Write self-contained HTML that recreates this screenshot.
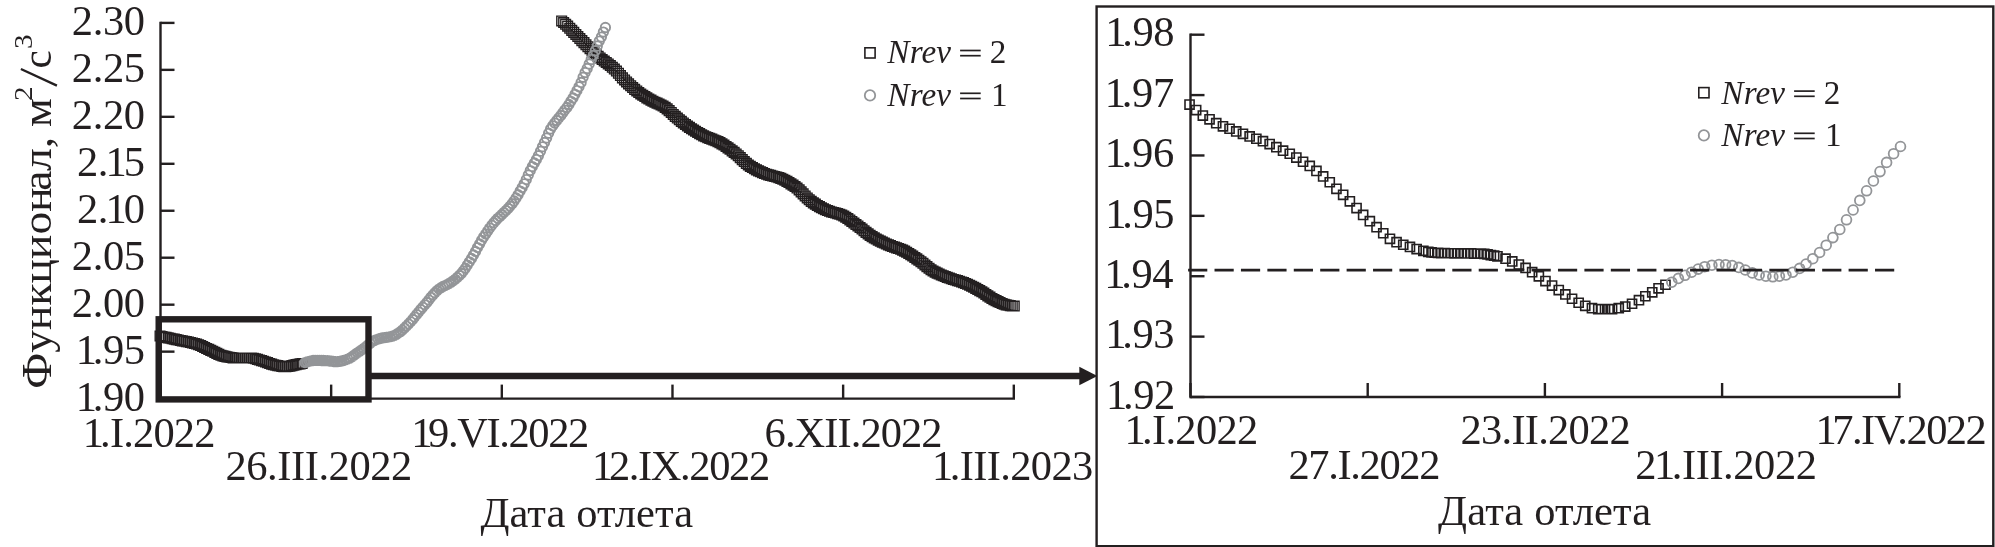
<!DOCTYPE html>
<html lang="ru"><head><meta charset="utf-8"><title>Figure</title>
<style>
html,body{margin:0;padding:0;background:#fff;}
body{width:1995px;height:547px;overflow:hidden;font-family:"Liberation Serif",serif;}
svg{display:block;will-change:transform;opacity:0.999}
text{font-family:"Liberation Serif",serif;}
</style></head><body>
<svg width="1995" height="547" viewBox="0 0 1995 547">
<rect width="1995" height="547" fill="#fff"/>
<line x1="160.50" y1="21.70" x2="160.50" y2="399.80" stroke="#231f20" stroke-width="2.4" />
<line x1="160.50" y1="398.60" x2="1015.00" y2="398.60" stroke="#231f20" stroke-width="2.4" />
<line x1="160.50" y1="22.90" x2="174.50" y2="22.90" stroke="#231f20" stroke-width="2.4" />
<line x1="160.50" y1="69.86" x2="174.50" y2="69.86" stroke="#231f20" stroke-width="2.4" />
<line x1="160.50" y1="116.83" x2="174.50" y2="116.83" stroke="#231f20" stroke-width="2.4" />
<line x1="160.50" y1="163.79" x2="174.50" y2="163.79" stroke="#231f20" stroke-width="2.4" />
<line x1="160.50" y1="210.75" x2="174.50" y2="210.75" stroke="#231f20" stroke-width="2.4" />
<line x1="160.50" y1="257.71" x2="174.50" y2="257.71" stroke="#231f20" stroke-width="2.4" />
<line x1="160.50" y1="304.68" x2="174.50" y2="304.68" stroke="#231f20" stroke-width="2.4" />
<line x1="160.50" y1="351.64" x2="174.50" y2="351.64" stroke="#231f20" stroke-width="2.4" />
<line x1="160.50" y1="398.60" x2="174.50" y2="398.60" stroke="#231f20" stroke-width="2.4" />
<line x1="160.50" y1="384.60" x2="160.50" y2="398.60" stroke="#231f20" stroke-width="2.4" />
<line x1="331.16" y1="384.60" x2="331.16" y2="398.60" stroke="#231f20" stroke-width="2.4" />
<line x1="501.82" y1="384.60" x2="501.82" y2="398.60" stroke="#231f20" stroke-width="2.4" />
<line x1="672.48" y1="384.60" x2="672.48" y2="398.60" stroke="#231f20" stroke-width="2.4" />
<line x1="843.14" y1="384.60" x2="843.14" y2="398.60" stroke="#231f20" stroke-width="2.4" />
<line x1="1013.80" y1="384.60" x2="1013.80" y2="398.60" stroke="#231f20" stroke-width="2.4" />
<path d="M556.8 16.1h9.7v9.7h-9.7zM558.8 17.7h9.7v9.7h-9.7zM560.8 19.4h9.7v9.7h-9.7zM562.8 21.3h9.7v9.7h-9.7zM564.9 23.4h9.7v9.7h-9.7zM566.9 25.5h9.7v9.7h-9.7zM568.9 27.5h9.7v9.7h-9.7zM571.0 29.6h9.7v9.7h-9.7zM573.0 31.7h9.7v9.7h-9.7zM575.0 33.7h9.7v9.7h-9.7zM577.0 35.8h9.7v9.7h-9.7zM579.1 37.8h9.7v9.7h-9.7zM581.1 39.9h9.7v9.7h-9.7zM583.1 41.9h9.7v9.7h-9.7zM585.2 43.8h9.7v9.7h-9.7zM587.2 45.8h9.7v9.7h-9.7zM589.2 47.7h9.7v9.7h-9.7zM591.3 49.6h9.7v9.7h-9.7zM593.3 51.4h9.7v9.7h-9.7zM595.3 53.1h9.7v9.7h-9.7zM597.3 54.7h9.7v9.7h-9.7zM599.4 56.2h9.7v9.7h-9.7zM601.4 57.6h9.7v9.7h-9.7zM603.4 59.1h9.7v9.7h-9.7zM605.5 60.7h9.7v9.7h-9.7zM607.5 62.4h9.7v9.7h-9.7zM609.5 64.2h9.7v9.7h-9.7zM611.6 66.2h9.7v9.7h-9.7zM613.6 68.4h9.7v9.7h-9.7zM615.6 70.7h9.7v9.7h-9.7zM617.6 73.0h9.7v9.7h-9.7zM619.7 75.1h9.7v9.7h-9.7zM621.7 77.1h9.7v9.7h-9.7zM623.7 79.0h9.7v9.7h-9.7zM625.8 80.9h9.7v9.7h-9.7zM627.8 82.7h9.7v9.7h-9.7zM629.8 84.5h9.7v9.7h-9.7zM631.9 86.1h9.7v9.7h-9.7zM633.9 87.7h9.7v9.7h-9.7zM635.9 89.1h9.7v9.7h-9.7zM637.9 90.4h9.7v9.7h-9.7zM640.0 91.7h9.7v9.7h-9.7zM642.0 93.0h9.7v9.7h-9.7zM644.0 94.1h9.7v9.7h-9.7zM646.1 95.3h9.7v9.7h-9.7zM648.1 96.4h9.7v9.7h-9.7zM650.1 97.4h9.7v9.7h-9.7zM652.2 98.3h9.7v9.7h-9.7zM654.2 99.2h9.7v9.7h-9.7zM656.2 100.2h9.7v9.7h-9.7zM658.2 101.2h9.7v9.7h-9.7zM660.3 102.5h9.7v9.7h-9.7zM662.3 104.0h9.7v9.7h-9.7zM664.3 105.8h9.7v9.7h-9.7zM666.4 107.6h9.7v9.7h-9.7zM668.4 109.6h9.7v9.7h-9.7zM670.4 111.5h9.7v9.7h-9.7zM672.5 113.2h9.7v9.7h-9.7zM674.5 114.9h9.7v9.7h-9.7zM676.5 116.5h9.7v9.7h-9.7zM678.5 118.1h9.7v9.7h-9.7zM680.6 119.6h9.7v9.7h-9.7zM682.6 121.1h9.7v9.7h-9.7zM684.6 122.5h9.7v9.7h-9.7zM686.7 123.9h9.7v9.7h-9.7zM688.7 125.2h9.7v9.7h-9.7zM690.7 126.4h9.7v9.7h-9.7zM692.8 127.7h9.7v9.7h-9.7zM694.8 128.8h9.7v9.7h-9.7zM696.8 129.9h9.7v9.7h-9.7zM698.8 131.0h9.7v9.7h-9.7zM700.9 131.9h9.7v9.7h-9.7zM702.9 132.8h9.7v9.7h-9.7zM704.9 133.5h9.7v9.7h-9.7zM707.0 134.3h9.7v9.7h-9.7zM709.0 135.1h9.7v9.7h-9.7zM711.0 135.9h9.7v9.7h-9.7zM713.1 136.8h9.7v9.7h-9.7zM715.1 137.8h9.7v9.7h-9.7zM717.1 139.0h9.7v9.7h-9.7zM719.1 140.2h9.7v9.7h-9.7zM721.2 141.6h9.7v9.7h-9.7zM723.2 143.0h9.7v9.7h-9.7zM725.2 144.4h9.7v9.7h-9.7zM727.3 146.0h9.7v9.7h-9.7zM729.3 147.5h9.7v9.7h-9.7zM731.3 149.1h9.7v9.7h-9.7zM733.4 150.9h9.7v9.7h-9.7zM735.4 152.8h9.7v9.7h-9.7zM737.4 154.8h9.7v9.7h-9.7zM739.4 156.7h9.7v9.7h-9.7zM741.5 158.5h9.7v9.7h-9.7zM743.5 160.1h9.7v9.7h-9.7zM745.5 161.5h9.7v9.7h-9.7zM747.6 162.7h9.7v9.7h-9.7zM749.6 163.9h9.7v9.7h-9.7zM751.6 165.0h9.7v9.7h-9.7zM753.7 166.0h9.7v9.7h-9.7zM755.7 166.9h9.7v9.7h-9.7zM757.7 167.8h9.7v9.7h-9.7zM759.7 168.6h9.7v9.7h-9.7zM761.8 169.4h9.7v9.7h-9.7zM763.8 170.0h9.7v9.7h-9.7zM765.8 170.5h9.7v9.7h-9.7zM767.9 171.1h9.7v9.7h-9.7zM769.9 171.6h9.7v9.7h-9.7zM771.9 172.2h9.7v9.7h-9.7zM774.0 172.8h9.7v9.7h-9.7zM776.0 173.5h9.7v9.7h-9.7zM778.0 174.4h9.7v9.7h-9.7zM780.0 175.4h9.7v9.7h-9.7zM782.1 176.5h9.7v9.7h-9.7zM784.1 177.7h9.7v9.7h-9.7zM786.1 179.0h9.7v9.7h-9.7zM788.2 180.3h9.7v9.7h-9.7zM790.2 181.7h9.7v9.7h-9.7zM792.2 183.2h9.7v9.7h-9.7zM794.3 185.0h9.7v9.7h-9.7zM796.3 187.0h9.7v9.7h-9.7zM798.3 189.0h9.7v9.7h-9.7zM800.3 191.1h9.7v9.7h-9.7zM802.4 193.1h9.7v9.7h-9.7zM804.4 194.9h9.7v9.7h-9.7zM806.4 196.5h9.7v9.7h-9.7zM808.5 198.0h9.7v9.7h-9.7zM810.5 199.3h9.7v9.7h-9.7zM812.5 200.6h9.7v9.7h-9.7zM814.6 201.8h9.7v9.7h-9.7zM816.6 202.9h9.7v9.7h-9.7zM818.6 203.9h9.7v9.7h-9.7zM820.6 204.9h9.7v9.7h-9.7zM822.7 205.7h9.7v9.7h-9.7zM824.7 206.4h9.7v9.7h-9.7zM826.7 207.1h9.7v9.7h-9.7zM828.8 207.6h9.7v9.7h-9.7zM830.8 208.2h9.7v9.7h-9.7zM832.8 208.8h9.7v9.7h-9.7zM834.9 209.4h9.7v9.7h-9.7zM836.9 210.2h9.7v9.7h-9.7zM838.9 211.2h9.7v9.7h-9.7zM840.9 212.4h9.7v9.7h-9.7zM843.0 213.7h9.7v9.7h-9.7zM845.0 215.1h9.7v9.7h-9.7zM847.0 216.6h9.7v9.7h-9.7zM849.1 218.2h9.7v9.7h-9.7zM851.1 219.7h9.7v9.7h-9.7zM853.1 221.1h9.7v9.7h-9.7zM855.2 222.7h9.7v9.7h-9.7zM857.2 224.2h9.7v9.7h-9.7zM859.2 225.9h9.7v9.7h-9.7zM861.2 227.5h9.7v9.7h-9.7zM863.3 229.0h9.7v9.7h-9.7zM865.3 230.5h9.7v9.7h-9.7zM867.3 231.8h9.7v9.7h-9.7zM869.4 233.0h9.7v9.7h-9.7zM871.4 234.2h9.7v9.7h-9.7zM873.4 235.3h9.7v9.7h-9.7zM875.5 236.3h9.7v9.7h-9.7zM877.5 237.3h9.7v9.7h-9.7zM879.5 238.2h9.7v9.7h-9.7zM881.5 239.2h9.7v9.7h-9.7zM883.6 240.0h9.7v9.7h-9.7zM885.6 240.8h9.7v9.7h-9.7zM887.6 241.6h9.7v9.7h-9.7zM889.7 242.3h9.7v9.7h-9.7zM891.7 243.0h9.7v9.7h-9.7zM893.7 243.7h9.7v9.7h-9.7zM895.8 244.4h9.7v9.7h-9.7zM897.8 245.3h9.7v9.7h-9.7zM899.8 246.3h9.7v9.7h-9.7zM901.8 247.4h9.7v9.7h-9.7zM903.9 248.6h9.7v9.7h-9.7zM905.9 249.9h9.7v9.7h-9.7zM907.9 251.2h9.7v9.7h-9.7zM910.0 252.6h9.7v9.7h-9.7zM912.0 254.0h9.7v9.7h-9.7zM914.0 255.4h9.7v9.7h-9.7zM916.1 256.9h9.7v9.7h-9.7zM918.1 258.4h9.7v9.7h-9.7zM920.1 260.1h9.7v9.7h-9.7zM922.1 261.8h9.7v9.7h-9.7zM924.2 263.4h9.7v9.7h-9.7zM926.2 264.9h9.7v9.7h-9.7zM928.2 266.2h9.7v9.7h-9.7zM930.3 267.3h9.7v9.7h-9.7zM932.3 268.3h9.7v9.7h-9.7zM934.3 269.2h9.7v9.7h-9.7zM936.4 270.1h9.7v9.7h-9.7zM938.4 270.9h9.7v9.7h-9.7zM940.4 271.7h9.7v9.7h-9.7zM942.4 272.5h9.7v9.7h-9.7zM944.5 273.2h9.7v9.7h-9.7zM946.5 273.9h9.7v9.7h-9.7zM948.5 274.6h9.7v9.7h-9.7zM950.6 275.2h9.7v9.7h-9.7zM952.6 275.8h9.7v9.7h-9.7zM954.6 276.4h9.7v9.7h-9.7zM956.7 277.1h9.7v9.7h-9.7zM958.7 277.8h9.7v9.7h-9.7zM960.7 278.6h9.7v9.7h-9.7zM962.7 279.4h9.7v9.7h-9.7zM964.8 280.4h9.7v9.7h-9.7zM966.8 281.4h9.7v9.7h-9.7zM968.8 282.4h9.7v9.7h-9.7zM970.9 283.5h9.7v9.7h-9.7zM972.9 284.6h9.7v9.7h-9.7zM974.9 285.8h9.7v9.7h-9.7zM977.0 286.9h9.7v9.7h-9.7zM979.0 288.2h9.7v9.7h-9.7zM981.0 289.6h9.7v9.7h-9.7zM983.0 291.0h9.7v9.7h-9.7zM985.1 292.3h9.7v9.7h-9.7zM987.1 293.6h9.7v9.7h-9.7zM989.1 294.8h9.7v9.7h-9.7zM991.2 295.8h9.7v9.7h-9.7zM993.2 296.8h9.7v9.7h-9.7zM995.2 297.7h9.7v9.7h-9.7zM997.3 298.6h9.7v9.7h-9.7zM999.3 299.4h9.7v9.7h-9.7zM1001.3 300.0h9.7v9.7h-9.7zM1003.3 300.4h9.7v9.7h-9.7zM1005.4 300.8h9.7v9.7h-9.7zM1007.4 301.1h9.7v9.7h-9.7zM1009.4 301.2h9.7v9.7h-9.7z" fill="none" stroke="#231f20" stroke-width="1.4"/>
<path d="M155.2 331.1h9.7v9.7h-9.7zM157.2 331.6h9.7v9.7h-9.7zM159.2 332.1h9.7v9.7h-9.7zM161.2 332.5h9.7v9.7h-9.7zM163.3 333.0h9.7v9.7h-9.7zM165.3 333.4h9.7v9.7h-9.7zM167.3 333.9h9.7v9.7h-9.7zM169.4 334.3h9.7v9.7h-9.7zM171.4 334.8h9.7v9.7h-9.7zM173.4 335.2h9.7v9.7h-9.7zM175.5 335.6h9.7v9.7h-9.7zM177.5 336.0h9.7v9.7h-9.7zM179.5 336.4h9.7v9.7h-9.7zM181.5 336.8h9.7v9.7h-9.7zM183.6 337.2h9.7v9.7h-9.7zM185.6 337.6h9.7v9.7h-9.7zM187.6 338.1h9.7v9.7h-9.7zM189.7 338.6h9.7v9.7h-9.7zM191.7 339.2h9.7v9.7h-9.7zM193.7 339.9h9.7v9.7h-9.7zM195.8 340.7h9.7v9.7h-9.7zM197.8 341.6h9.7v9.7h-9.7zM199.8 342.6h9.7v9.7h-9.7zM201.8 343.6h9.7v9.7h-9.7zM203.9 344.5h9.7v9.7h-9.7zM205.9 345.5h9.7v9.7h-9.7zM207.9 346.4h9.7v9.7h-9.7zM210.0 347.5h9.7v9.7h-9.7zM212.0 348.5h9.7v9.7h-9.7zM214.0 349.5h9.7v9.7h-9.7zM216.1 350.4h9.7v9.7h-9.7zM218.1 351.0h9.7v9.7h-9.7zM220.1 351.5h9.7v9.7h-9.7zM222.1 352.0h9.7v9.7h-9.7zM224.2 352.4h9.7v9.7h-9.7zM226.2 352.7h9.7v9.7h-9.7zM228.2 353.0h9.7v9.7h-9.7zM230.3 353.1h9.7v9.7h-9.7zM232.3 353.1h9.7v9.7h-9.7zM234.3 353.1h9.7v9.7h-9.7zM236.4 353.1h9.7v9.7h-9.7zM238.4 353.1h9.7v9.7h-9.7zM240.4 353.1h9.7v9.7h-9.7zM242.4 353.1h9.7v9.7h-9.7zM244.5 353.1h9.7v9.7h-9.7zM246.5 353.2h9.7v9.7h-9.7zM248.5 353.4h9.7v9.7h-9.7zM250.6 353.9h9.7v9.7h-9.7zM252.6 354.5h9.7v9.7h-9.7zM254.6 355.1h9.7v9.7h-9.7zM256.7 355.8h9.7v9.7h-9.7zM258.7 356.4h9.7v9.7h-9.7zM260.7 357.1h9.7v9.7h-9.7zM262.7 357.8h9.7v9.7h-9.7zM264.8 358.6h9.7v9.7h-9.7zM266.8 359.3h9.7v9.7h-9.7zM268.8 359.9h9.7v9.7h-9.7zM270.9 360.4h9.7v9.7h-9.7zM272.9 360.8h9.7v9.7h-9.7zM274.9 361.2h9.7v9.7h-9.7zM277.0 361.6h9.7v9.7h-9.7zM279.0 361.8h9.7v9.7h-9.7zM281.0 361.8h9.7v9.7h-9.7zM283.0 361.6h9.7v9.7h-9.7zM285.1 361.3h9.7v9.7h-9.7zM287.1 360.8h9.7v9.7h-9.7zM289.1 360.3h9.7v9.7h-9.7zM291.2 359.8h9.7v9.7h-9.7zM293.2 359.4h9.7v9.7h-9.7zM295.2 359.0h9.7v9.7h-9.7zM297.3 358.6h9.7v9.7h-9.7z" fill="none" stroke="#231f20" stroke-width="1.4"/>
<path d="M300.3 362.6a4.7 4.7 0 1 0 9.4 0a4.7 4.7 0 1 0 -9.4 0zM302.3 361.9a4.7 4.7 0 1 0 9.4 0a4.7 4.7 0 1 0 -9.4 0zM304.4 361.3a4.7 4.7 0 1 0 9.4 0a4.7 4.7 0 1 0 -9.4 0zM306.4 360.8a4.7 4.7 0 1 0 9.4 0a4.7 4.7 0 1 0 -9.4 0zM308.4 360.5a4.7 4.7 0 1 0 9.4 0a4.7 4.7 0 1 0 -9.4 0zM310.4 360.4a4.7 4.7 0 1 0 9.4 0a4.7 4.7 0 1 0 -9.4 0zM312.5 360.4a4.7 4.7 0 1 0 9.4 0a4.7 4.7 0 1 0 -9.4 0zM314.5 360.4a4.7 4.7 0 1 0 9.4 0a4.7 4.7 0 1 0 -9.4 0zM316.5 360.5a4.7 4.7 0 1 0 9.4 0a4.7 4.7 0 1 0 -9.4 0zM318.6 360.5a4.7 4.7 0 1 0 9.4 0a4.7 4.7 0 1 0 -9.4 0zM320.6 360.6a4.7 4.7 0 1 0 9.4 0a4.7 4.7 0 1 0 -9.4 0zM322.6 360.7a4.7 4.7 0 1 0 9.4 0a4.7 4.7 0 1 0 -9.4 0zM324.7 361.0a4.7 4.7 0 1 0 9.4 0a4.7 4.7 0 1 0 -9.4 0zM326.7 361.2a4.7 4.7 0 1 0 9.4 0a4.7 4.7 0 1 0 -9.4 0zM328.7 361.5a4.7 4.7 0 1 0 9.4 0a4.7 4.7 0 1 0 -9.4 0zM330.7 361.7a4.7 4.7 0 1 0 9.4 0a4.7 4.7 0 1 0 -9.4 0zM332.8 361.7a4.7 4.7 0 1 0 9.4 0a4.7 4.7 0 1 0 -9.4 0zM334.8 361.4a4.7 4.7 0 1 0 9.4 0a4.7 4.7 0 1 0 -9.4 0zM336.8 361.0a4.7 4.7 0 1 0 9.4 0a4.7 4.7 0 1 0 -9.4 0zM338.9 360.5a4.7 4.7 0 1 0 9.4 0a4.7 4.7 0 1 0 -9.4 0zM340.9 359.8a4.7 4.7 0 1 0 9.4 0a4.7 4.7 0 1 0 -9.4 0zM342.9 359.1a4.7 4.7 0 1 0 9.4 0a4.7 4.7 0 1 0 -9.4 0zM345.0 358.2a4.7 4.7 0 1 0 9.4 0a4.7 4.7 0 1 0 -9.4 0zM347.0 356.9a4.7 4.7 0 1 0 9.4 0a4.7 4.7 0 1 0 -9.4 0zM349.0 355.4a4.7 4.7 0 1 0 9.4 0a4.7 4.7 0 1 0 -9.4 0zM351.0 354.0a4.7 4.7 0 1 0 9.4 0a4.7 4.7 0 1 0 -9.4 0zM353.1 352.6a4.7 4.7 0 1 0 9.4 0a4.7 4.7 0 1 0 -9.4 0zM355.1 351.2a4.7 4.7 0 1 0 9.4 0a4.7 4.7 0 1 0 -9.4 0zM357.1 349.8a4.7 4.7 0 1 0 9.4 0a4.7 4.7 0 1 0 -9.4 0zM359.2 348.3a4.7 4.7 0 1 0 9.4 0a4.7 4.7 0 1 0 -9.4 0zM361.2 346.8a4.7 4.7 0 1 0 9.4 0a4.7 4.7 0 1 0 -9.4 0zM363.2 345.1a4.7 4.7 0 1 0 9.4 0a4.7 4.7 0 1 0 -9.4 0zM365.3 343.4a4.7 4.7 0 1 0 9.4 0a4.7 4.7 0 1 0 -9.4 0zM367.3 341.8a4.7 4.7 0 1 0 9.4 0a4.7 4.7 0 1 0 -9.4 0zM369.3 340.7a4.7 4.7 0 1 0 9.4 0a4.7 4.7 0 1 0 -9.4 0zM371.3 339.8a4.7 4.7 0 1 0 9.4 0a4.7 4.7 0 1 0 -9.4 0zM373.4 339.1a4.7 4.7 0 1 0 9.4 0a4.7 4.7 0 1 0 -9.4 0zM375.4 338.5a4.7 4.7 0 1 0 9.4 0a4.7 4.7 0 1 0 -9.4 0zM377.4 338.0a4.7 4.7 0 1 0 9.4 0a4.7 4.7 0 1 0 -9.4 0zM379.5 337.7a4.7 4.7 0 1 0 9.4 0a4.7 4.7 0 1 0 -9.4 0zM381.5 337.4a4.7 4.7 0 1 0 9.4 0a4.7 4.7 0 1 0 -9.4 0zM383.5 337.1a4.7 4.7 0 1 0 9.4 0a4.7 4.7 0 1 0 -9.4 0zM385.6 336.7a4.7 4.7 0 1 0 9.4 0a4.7 4.7 0 1 0 -9.4 0zM387.6 336.2a4.7 4.7 0 1 0 9.4 0a4.7 4.7 0 1 0 -9.4 0zM389.6 335.4a4.7 4.7 0 1 0 9.4 0a4.7 4.7 0 1 0 -9.4 0zM391.6 334.4a4.7 4.7 0 1 0 9.4 0a4.7 4.7 0 1 0 -9.4 0zM393.7 333.1a4.7 4.7 0 1 0 9.4 0a4.7 4.7 0 1 0 -9.4 0zM395.7 331.7a4.7 4.7 0 1 0 9.4 0a4.7 4.7 0 1 0 -9.4 0zM397.7 330.1a4.7 4.7 0 1 0 9.4 0a4.7 4.7 0 1 0 -9.4 0zM399.8 328.1a4.7 4.7 0 1 0 9.4 0a4.7 4.7 0 1 0 -9.4 0zM401.8 326.1a4.7 4.7 0 1 0 9.4 0a4.7 4.7 0 1 0 -9.4 0zM403.8 324.0a4.7 4.7 0 1 0 9.4 0a4.7 4.7 0 1 0 -9.4 0zM405.9 321.8a4.7 4.7 0 1 0 9.4 0a4.7 4.7 0 1 0 -9.4 0zM407.9 319.5a4.7 4.7 0 1 0 9.4 0a4.7 4.7 0 1 0 -9.4 0zM409.9 317.1a4.7 4.7 0 1 0 9.4 0a4.7 4.7 0 1 0 -9.4 0zM411.9 314.6a4.7 4.7 0 1 0 9.4 0a4.7 4.7 0 1 0 -9.4 0zM414.0 312.1a4.7 4.7 0 1 0 9.4 0a4.7 4.7 0 1 0 -9.4 0zM416.0 309.5a4.7 4.7 0 1 0 9.4 0a4.7 4.7 0 1 0 -9.4 0zM418.0 307.2a4.7 4.7 0 1 0 9.4 0a4.7 4.7 0 1 0 -9.4 0zM420.1 304.8a4.7 4.7 0 1 0 9.4 0a4.7 4.7 0 1 0 -9.4 0zM422.1 302.5a4.7 4.7 0 1 0 9.4 0a4.7 4.7 0 1 0 -9.4 0zM424.1 299.9a4.7 4.7 0 1 0 9.4 0a4.7 4.7 0 1 0 -9.4 0zM426.2 297.3a4.7 4.7 0 1 0 9.4 0a4.7 4.7 0 1 0 -9.4 0zM428.2 294.9a4.7 4.7 0 1 0 9.4 0a4.7 4.7 0 1 0 -9.4 0zM430.2 292.8a4.7 4.7 0 1 0 9.4 0a4.7 4.7 0 1 0 -9.4 0zM432.2 290.8a4.7 4.7 0 1 0 9.4 0a4.7 4.7 0 1 0 -9.4 0zM434.3 289.1a4.7 4.7 0 1 0 9.4 0a4.7 4.7 0 1 0 -9.4 0zM436.3 287.7a4.7 4.7 0 1 0 9.4 0a4.7 4.7 0 1 0 -9.4 0zM438.3 286.5a4.7 4.7 0 1 0 9.4 0a4.7 4.7 0 1 0 -9.4 0zM440.4 285.6a4.7 4.7 0 1 0 9.4 0a4.7 4.7 0 1 0 -9.4 0zM442.4 284.6a4.7 4.7 0 1 0 9.4 0a4.7 4.7 0 1 0 -9.4 0zM444.4 283.5a4.7 4.7 0 1 0 9.4 0a4.7 4.7 0 1 0 -9.4 0zM446.5 282.2a4.7 4.7 0 1 0 9.4 0a4.7 4.7 0 1 0 -9.4 0zM448.5 280.8a4.7 4.7 0 1 0 9.4 0a4.7 4.7 0 1 0 -9.4 0zM450.5 279.3a4.7 4.7 0 1 0 9.4 0a4.7 4.7 0 1 0 -9.4 0zM452.5 277.5a4.7 4.7 0 1 0 9.4 0a4.7 4.7 0 1 0 -9.4 0zM454.6 275.6a4.7 4.7 0 1 0 9.4 0a4.7 4.7 0 1 0 -9.4 0zM456.6 273.4a4.7 4.7 0 1 0 9.4 0a4.7 4.7 0 1 0 -9.4 0zM458.6 270.9a4.7 4.7 0 1 0 9.4 0a4.7 4.7 0 1 0 -9.4 0zM460.7 268.2a4.7 4.7 0 1 0 9.4 0a4.7 4.7 0 1 0 -9.4 0zM462.7 265.1a4.7 4.7 0 1 0 9.4 0a4.7 4.7 0 1 0 -9.4 0zM464.7 261.8a4.7 4.7 0 1 0 9.4 0a4.7 4.7 0 1 0 -9.4 0zM466.8 258.5a4.7 4.7 0 1 0 9.4 0a4.7 4.7 0 1 0 -9.4 0zM468.8 255.0a4.7 4.7 0 1 0 9.4 0a4.7 4.7 0 1 0 -9.4 0zM470.8 251.4a4.7 4.7 0 1 0 9.4 0a4.7 4.7 0 1 0 -9.4 0zM472.8 247.6a4.7 4.7 0 1 0 9.4 0a4.7 4.7 0 1 0 -9.4 0zM474.9 243.9a4.7 4.7 0 1 0 9.4 0a4.7 4.7 0 1 0 -9.4 0zM476.9 240.3a4.7 4.7 0 1 0 9.4 0a4.7 4.7 0 1 0 -9.4 0zM478.9 236.9a4.7 4.7 0 1 0 9.4 0a4.7 4.7 0 1 0 -9.4 0zM481.0 233.9a4.7 4.7 0 1 0 9.4 0a4.7 4.7 0 1 0 -9.4 0zM483.0 231.0a4.7 4.7 0 1 0 9.4 0a4.7 4.7 0 1 0 -9.4 0zM485.0 228.1a4.7 4.7 0 1 0 9.4 0a4.7 4.7 0 1 0 -9.4 0zM487.1 225.3a4.7 4.7 0 1 0 9.4 0a4.7 4.7 0 1 0 -9.4 0zM489.1 222.7a4.7 4.7 0 1 0 9.4 0a4.7 4.7 0 1 0 -9.4 0zM491.1 220.4a4.7 4.7 0 1 0 9.4 0a4.7 4.7 0 1 0 -9.4 0zM493.1 218.3a4.7 4.7 0 1 0 9.4 0a4.7 4.7 0 1 0 -9.4 0zM495.2 216.4a4.7 4.7 0 1 0 9.4 0a4.7 4.7 0 1 0 -9.4 0zM497.2 214.4a4.7 4.7 0 1 0 9.4 0a4.7 4.7 0 1 0 -9.4 0zM499.2 212.4a4.7 4.7 0 1 0 9.4 0a4.7 4.7 0 1 0 -9.4 0zM501.3 210.5a4.7 4.7 0 1 0 9.4 0a4.7 4.7 0 1 0 -9.4 0zM503.3 208.4a4.7 4.7 0 1 0 9.4 0a4.7 4.7 0 1 0 -9.4 0zM505.3 206.2a4.7 4.7 0 1 0 9.4 0a4.7 4.7 0 1 0 -9.4 0zM507.4 203.7a4.7 4.7 0 1 0 9.4 0a4.7 4.7 0 1 0 -9.4 0zM509.4 201.0a4.7 4.7 0 1 0 9.4 0a4.7 4.7 0 1 0 -9.4 0zM511.4 198.0a4.7 4.7 0 1 0 9.4 0a4.7 4.7 0 1 0 -9.4 0zM513.4 194.7a4.7 4.7 0 1 0 9.4 0a4.7 4.7 0 1 0 -9.4 0zM515.5 191.1a4.7 4.7 0 1 0 9.4 0a4.7 4.7 0 1 0 -9.4 0zM517.5 187.6a4.7 4.7 0 1 0 9.4 0a4.7 4.7 0 1 0 -9.4 0zM519.5 183.8a4.7 4.7 0 1 0 9.4 0a4.7 4.7 0 1 0 -9.4 0zM521.6 179.6a4.7 4.7 0 1 0 9.4 0a4.7 4.7 0 1 0 -9.4 0zM523.6 175.0a4.7 4.7 0 1 0 9.4 0a4.7 4.7 0 1 0 -9.4 0zM525.6 170.6a4.7 4.7 0 1 0 9.4 0a4.7 4.7 0 1 0 -9.4 0zM527.7 166.6a4.7 4.7 0 1 0 9.4 0a4.7 4.7 0 1 0 -9.4 0zM529.7 162.9a4.7 4.7 0 1 0 9.4 0a4.7 4.7 0 1 0 -9.4 0zM531.7 159.5a4.7 4.7 0 1 0 9.4 0a4.7 4.7 0 1 0 -9.4 0zM533.7 155.7a4.7 4.7 0 1 0 9.4 0a4.7 4.7 0 1 0 -9.4 0zM535.8 151.3a4.7 4.7 0 1 0 9.4 0a4.7 4.7 0 1 0 -9.4 0zM537.8 146.8a4.7 4.7 0 1 0 9.4 0a4.7 4.7 0 1 0 -9.4 0zM539.8 142.4a4.7 4.7 0 1 0 9.4 0a4.7 4.7 0 1 0 -9.4 0zM541.9 137.9a4.7 4.7 0 1 0 9.4 0a4.7 4.7 0 1 0 -9.4 0zM543.9 133.2a4.7 4.7 0 1 0 9.4 0a4.7 4.7 0 1 0 -9.4 0zM545.9 129.0a4.7 4.7 0 1 0 9.4 0a4.7 4.7 0 1 0 -9.4 0zM548.0 125.8a4.7 4.7 0 1 0 9.4 0a4.7 4.7 0 1 0 -9.4 0zM550.0 123.1a4.7 4.7 0 1 0 9.4 0a4.7 4.7 0 1 0 -9.4 0zM552.0 120.4a4.7 4.7 0 1 0 9.4 0a4.7 4.7 0 1 0 -9.4 0zM554.0 117.9a4.7 4.7 0 1 0 9.4 0a4.7 4.7 0 1 0 -9.4 0zM556.1 115.4a4.7 4.7 0 1 0 9.4 0a4.7 4.7 0 1 0 -9.4 0zM558.1 112.8a4.7 4.7 0 1 0 9.4 0a4.7 4.7 0 1 0 -9.4 0zM560.1 110.1a4.7 4.7 0 1 0 9.4 0a4.7 4.7 0 1 0 -9.4 0zM562.2 107.4a4.7 4.7 0 1 0 9.4 0a4.7 4.7 0 1 0 -9.4 0zM564.2 104.5a4.7 4.7 0 1 0 9.4 0a4.7 4.7 0 1 0 -9.4 0zM566.2 101.3a4.7 4.7 0 1 0 9.4 0a4.7 4.7 0 1 0 -9.4 0zM568.3 97.9a4.7 4.7 0 1 0 9.4 0a4.7 4.7 0 1 0 -9.4 0zM570.3 94.3a4.7 4.7 0 1 0 9.4 0a4.7 4.7 0 1 0 -9.4 0zM572.3 90.6a4.7 4.7 0 1 0 9.4 0a4.7 4.7 0 1 0 -9.4 0zM574.3 86.8a4.7 4.7 0 1 0 9.4 0a4.7 4.7 0 1 0 -9.4 0zM576.4 82.4a4.7 4.7 0 1 0 9.4 0a4.7 4.7 0 1 0 -9.4 0zM578.4 77.3a4.7 4.7 0 1 0 9.4 0a4.7 4.7 0 1 0 -9.4 0zM580.4 72.5a4.7 4.7 0 1 0 9.4 0a4.7 4.7 0 1 0 -9.4 0zM582.5 68.5a4.7 4.7 0 1 0 9.4 0a4.7 4.7 0 1 0 -9.4 0zM584.5 64.0a4.7 4.7 0 1 0 9.4 0a4.7 4.7 0 1 0 -9.4 0zM586.5 59.6a4.7 4.7 0 1 0 9.4 0a4.7 4.7 0 1 0 -9.4 0zM588.6 55.4a4.7 4.7 0 1 0 9.4 0a4.7 4.7 0 1 0 -9.4 0zM590.6 50.7a4.7 4.7 0 1 0 9.4 0a4.7 4.7 0 1 0 -9.4 0zM592.6 46.0a4.7 4.7 0 1 0 9.4 0a4.7 4.7 0 1 0 -9.4 0zM594.6 41.1a4.7 4.7 0 1 0 9.4 0a4.7 4.7 0 1 0 -9.4 0zM596.7 37.1a4.7 4.7 0 1 0 9.4 0a4.7 4.7 0 1 0 -9.4 0zM598.7 32.1a4.7 4.7 0 1 0 9.4 0a4.7 4.7 0 1 0 -9.4 0zM600.7 27.4a4.7 4.7 0 1 0 9.4 0a4.7 4.7 0 1 0 -9.4 0z" fill="none" stroke="#939598" stroke-width="1.9"/>
<rect x="158.7" y="319.3" width="209.8" height="80.1" fill="none" stroke="#231f20" stroke-width="6.4"/>
<line x1="371.00" y1="376.00" x2="1081.00" y2="376.00" stroke="#231f20" stroke-width="6.4" />
<path d="M1079.3 366.8L1097.4 376L1079.3 385.2z" fill="#231f20"/>
<rect x="1096.6" y="6.5" width="896.7" height="539.7" fill="none" stroke="#231f20" stroke-width="2.4"/>
<line x1="1190.50" y1="33.50" x2="1190.50" y2="398.20" stroke="#231f20" stroke-width="2.4" />
<line x1="1190.50" y1="397.00" x2="1900.50" y2="397.00" stroke="#231f20" stroke-width="2.4" />
<line x1="1190.50" y1="34.70" x2="1204.50" y2="34.70" stroke="#231f20" stroke-width="2.4" />
<line x1="1190.50" y1="95.08" x2="1204.50" y2="95.08" stroke="#231f20" stroke-width="2.4" />
<line x1="1190.50" y1="155.47" x2="1204.50" y2="155.47" stroke="#231f20" stroke-width="2.4" />
<line x1="1190.50" y1="215.85" x2="1204.50" y2="215.85" stroke="#231f20" stroke-width="2.4" />
<line x1="1190.50" y1="276.23" x2="1204.50" y2="276.23" stroke="#231f20" stroke-width="2.4" />
<line x1="1190.50" y1="336.62" x2="1204.50" y2="336.62" stroke="#231f20" stroke-width="2.4" />
<line x1="1190.50" y1="397.00" x2="1204.50" y2="397.00" stroke="#231f20" stroke-width="2.4" />
<line x1="1190.50" y1="383.00" x2="1190.50" y2="397.00" stroke="#231f20" stroke-width="2.4" />
<line x1="1367.70" y1="383.00" x2="1367.70" y2="397.00" stroke="#231f20" stroke-width="2.4" />
<line x1="1544.90" y1="383.00" x2="1544.90" y2="397.00" stroke="#231f20" stroke-width="2.4" />
<line x1="1722.10" y1="383.00" x2="1722.10" y2="397.00" stroke="#231f20" stroke-width="2.4" />
<line x1="1899.30" y1="383.00" x2="1899.30" y2="397.00" stroke="#231f20" stroke-width="2.4" />
<path d="M1185.0 100.0h9.1v9.1h-9.1zM1191.6 105.5h9.1v9.1h-9.1zM1198.3 111.0h9.1v9.1h-9.1zM1205.0 114.8h9.1v9.1h-9.1zM1211.7 118.6h9.1v9.1h-9.1zM1218.4 121.8h9.1v9.1h-9.1zM1225.0 124.2h9.1v9.1h-9.1zM1231.7 126.9h9.1v9.1h-9.1zM1238.4 129.3h9.1v9.1h-9.1zM1245.1 131.9h9.1v9.1h-9.1zM1251.8 134.2h9.1v9.1h-9.1zM1258.4 136.6h9.1v9.1h-9.1zM1265.1 139.5h9.1v9.1h-9.1zM1271.8 142.6h9.1v9.1h-9.1zM1278.5 146.1h9.1v9.1h-9.1zM1285.2 149.2h9.1v9.1h-9.1zM1291.8 153.0h9.1v9.1h-9.1zM1298.5 157.2h9.1v9.1h-9.1zM1305.2 161.4h9.1v9.1h-9.1zM1311.9 166.4h9.1v9.1h-9.1zM1318.6 171.9h9.1v9.1h-9.1zM1325.2 177.7h9.1v9.1h-9.1zM1331.9 184.3h9.1v9.1h-9.1zM1338.6 190.3h9.1v9.1h-9.1zM1345.3 196.8h9.1v9.1h-9.1zM1352.0 203.5h9.1v9.1h-9.1zM1358.6 210.4h9.1v9.1h-9.1zM1365.3 216.6h9.1v9.1h-9.1zM1372.0 222.6h9.1v9.1h-9.1zM1378.7 228.7h9.1v9.1h-9.1zM1385.4 234.3h9.1v9.1h-9.1zM1392.0 237.6h9.1v9.1h-9.1zM1398.7 240.2h9.1v9.1h-9.1zM1405.4 242.4h9.1v9.1h-9.1zM1412.1 244.5h9.1v9.1h-9.1zM1418.8 246.3h9.1v9.1h-9.1zM1423.7 247.4h9.1v9.1h-9.1zM1427.0 247.9h9.1v9.1h-9.1zM1430.2 248.2h9.1v9.1h-9.1zM1433.5 248.4h9.1v9.1h-9.1zM1436.8 248.5h9.1v9.1h-9.1zM1440.1 248.6h9.1v9.1h-9.1zM1443.4 248.7h9.1v9.1h-9.1zM1446.7 248.7h9.1v9.1h-9.1zM1450.0 248.8h9.1v9.1h-9.1zM1453.3 248.8h9.1v9.1h-9.1zM1456.6 248.9h9.1v9.1h-9.1zM1459.9 248.9h9.1v9.1h-9.1zM1463.2 248.9h9.1v9.1h-9.1zM1466.5 248.9h9.1v9.1h-9.1zM1469.8 249.0h9.1v9.1h-9.1zM1473.1 249.0h9.1v9.1h-9.1zM1476.4 249.1h9.1v9.1h-9.1zM1479.7 249.4h9.1v9.1h-9.1zM1483.0 249.9h9.1v9.1h-9.1zM1486.3 250.6h9.1v9.1h-9.1zM1489.6 251.1h9.1v9.1h-9.1zM1492.9 251.8h9.1v9.1h-9.1zM1501.0 254.1h9.1v9.1h-9.1zM1507.7 256.9h9.1v9.1h-9.1zM1514.3 260.0h9.1v9.1h-9.1zM1521.0 263.4h9.1v9.1h-9.1zM1527.6 267.6h9.1v9.1h-9.1zM1534.3 271.8h9.1v9.1h-9.1zM1540.9 276.5h9.1v9.1h-9.1zM1547.5 281.0h9.1v9.1h-9.1zM1554.2 285.5h9.1v9.1h-9.1zM1560.8 289.9h9.1v9.1h-9.1zM1567.5 294.2h9.1v9.1h-9.1zM1574.1 298.2h9.1v9.1h-9.1zM1580.7 301.3h9.1v9.1h-9.1zM1587.4 303.6h9.1v9.1h-9.1zM1593.7 304.5h9.1v9.1h-9.1zM1597.0 304.6h9.1v9.1h-9.1zM1600.5 304.6h9.1v9.1h-9.1zM1604.0 304.6h9.1v9.1h-9.1zM1607.5 304.5h9.1v9.1h-9.1zM1614.2 303.6h9.1v9.1h-9.1zM1620.7 302.0h9.1v9.1h-9.1zM1627.5 299.2h9.1v9.1h-9.1zM1634.4 295.6h9.1v9.1h-9.1zM1640.8 291.7h9.1v9.1h-9.1zM1647.7 287.8h9.1v9.1h-9.1zM1654.0 283.8h9.1v9.1h-9.1zM1660.9 280.2h9.1v9.1h-9.1z" fill="none" stroke="#231f20" stroke-width="1.6"/>
<path d="M1666.9 282.2a4.9 4.9 0 1 0 9.8 0a4.9 4.9 0 1 0 -9.8 0zM1673.5 278.4a4.9 4.9 0 1 0 9.8 0a4.9 4.9 0 1 0 -9.8 0zM1680.1 275.3a4.9 4.9 0 1 0 9.8 0a4.9 4.9 0 1 0 -9.8 0zM1686.7 272.2a4.9 4.9 0 1 0 9.8 0a4.9 4.9 0 1 0 -9.8 0zM1693.3 269.1a4.9 4.9 0 1 0 9.8 0a4.9 4.9 0 1 0 -9.8 0zM1699.8 266.7a4.9 4.9 0 1 0 9.8 0a4.9 4.9 0 1 0 -9.8 0zM1707.0 265.2a4.9 4.9 0 1 0 9.8 0a4.9 4.9 0 1 0 -9.8 0zM1714.1 264.6a4.9 4.9 0 1 0 9.8 0a4.9 4.9 0 1 0 -9.8 0zM1720.7 264.7a4.9 4.9 0 1 0 9.8 0a4.9 4.9 0 1 0 -9.8 0zM1727.3 265.5a4.9 4.9 0 1 0 9.8 0a4.9 4.9 0 1 0 -9.8 0zM1733.9 267.4a4.9 4.9 0 1 0 9.8 0a4.9 4.9 0 1 0 -9.8 0zM1740.4 270.0a4.9 4.9 0 1 0 9.8 0a4.9 4.9 0 1 0 -9.8 0zM1747.4 272.9a4.9 4.9 0 1 0 9.8 0a4.9 4.9 0 1 0 -9.8 0zM1754.3 275.0a4.9 4.9 0 1 0 9.8 0a4.9 4.9 0 1 0 -9.8 0zM1761.0 276.2a4.9 4.9 0 1 0 9.8 0a4.9 4.9 0 1 0 -9.8 0zM1767.9 276.8a4.9 4.9 0 1 0 9.8 0a4.9 4.9 0 1 0 -9.8 0zM1774.5 276.2a4.9 4.9 0 1 0 9.8 0a4.9 4.9 0 1 0 -9.8 0zM1781.1 275.0a4.9 4.9 0 1 0 9.8 0a4.9 4.9 0 1 0 -9.8 0zM1787.9 272.2a4.9 4.9 0 1 0 9.8 0a4.9 4.9 0 1 0 -9.8 0zM1794.7 268.4a4.9 4.9 0 1 0 9.8 0a4.9 4.9 0 1 0 -9.8 0zM1801.2 264.0a4.9 4.9 0 1 0 9.8 0a4.9 4.9 0 1 0 -9.8 0zM1807.9 258.7a4.9 4.9 0 1 0 9.8 0a4.9 4.9 0 1 0 -9.8 0zM1814.7 252.5a4.9 4.9 0 1 0 9.8 0a4.9 4.9 0 1 0 -9.8 0zM1821.3 245.2a4.9 4.9 0 1 0 9.8 0a4.9 4.9 0 1 0 -9.8 0zM1828.0 237.6a4.9 4.9 0 1 0 9.8 0a4.9 4.9 0 1 0 -9.8 0zM1834.9 229.5a4.9 4.9 0 1 0 9.8 0a4.9 4.9 0 1 0 -9.8 0zM1841.6 219.8a4.9 4.9 0 1 0 9.8 0a4.9 4.9 0 1 0 -9.8 0zM1848.2 210.0a4.9 4.9 0 1 0 9.8 0a4.9 4.9 0 1 0 -9.8 0zM1854.9 200.4a4.9 4.9 0 1 0 9.8 0a4.9 4.9 0 1 0 -9.8 0zM1861.7 190.8a4.9 4.9 0 1 0 9.8 0a4.9 4.9 0 1 0 -9.8 0zM1868.5 181.0a4.9 4.9 0 1 0 9.8 0a4.9 4.9 0 1 0 -9.8 0zM1875.1 171.6a4.9 4.9 0 1 0 9.8 0a4.9 4.9 0 1 0 -9.8 0zM1881.7 162.4a4.9 4.9 0 1 0 9.8 0a4.9 4.9 0 1 0 -9.8 0zM1888.7 153.7a4.9 4.9 0 1 0 9.8 0a4.9 4.9 0 1 0 -9.8 0zM1895.6 146.5a4.9 4.9 0 1 0 9.8 0a4.9 4.9 0 1 0 -9.8 0z" fill="none" stroke="#939598" stroke-width="1.8"/>
<line x1="1188.10" y1="270.15" x2="1896.00" y2="270.15" stroke="#231f20" stroke-width="2.8" stroke-dasharray="19.2 7.22"/>
<rect x="864.9" y="47.8" width="10.2" height="10.2" fill="none" stroke="#231f20" stroke-width="1.6"/>
<circle cx="870.0" cy="95.4" r="5.2" fill="none" stroke="#939598" stroke-width="1.8"/>
<rect x="1698.8" y="87.6" width="10.2" height="10.2" fill="none" stroke="#231f20" stroke-width="1.6"/>
<circle cx="1703.9" cy="135.4" r="5.2" fill="none" stroke="#939598" stroke-width="1.8"/>
<g font-family="Liberation Serif" fill="#231f20" style="font-family:'Liberation Serif',serif">
<text x="71.79" y="35.30" style="font-size:42.5px;letter-spacing:-0.388px">2.30</text>
<text x="71.79" y="82.26" style="font-size:42.5px;letter-spacing:-0.388px">2.25</text>
<text x="71.79" y="129.22" style="font-size:42.5px;letter-spacing:-0.388px">2.20</text>
<text x="76.99" y="176.18" style="font-size:42.5px;letter-spacing:-0.388px">2.<tspan dx="-2.6">1</tspan><tspan dx="-2.6">5</tspan></text>
<text x="76.99" y="223.14" style="font-size:42.5px;letter-spacing:-0.388px">2.<tspan dx="-2.6">1</tspan><tspan dx="-2.6">0</tspan></text>
<text x="71.79" y="270.10" style="font-size:42.5px;letter-spacing:-0.388px">2.05</text>
<text x="71.79" y="317.06" style="font-size:42.5px;letter-spacing:-0.388px">2.00</text>
<text x="75.69" y="364.02" style="font-size:42.5px;letter-spacing:-0.388px">1<tspan dx="-3.9">.</tspan>95</text>
<text x="75.69" y="410.98" style="font-size:42.5px;letter-spacing:-0.388px">1<tspan dx="-3.9">.</tspan>90</text>
<text x="1105.29" y="46.40" style="font-size:42.5px;letter-spacing:-0.388px">1<tspan dx="-3.9">.</tspan>98</text>
<text x="1104.86" y="106.78" style="font-size:42.5px;letter-spacing:-0.388px">1<tspan dx="-3.9">.</tspan>97</text>
<text x="1104.86" y="167.16" style="font-size:42.5px;letter-spacing:-0.388px">1<tspan dx="-3.9">.</tspan>96</text>
<text x="1105.29" y="227.54" style="font-size:42.5px;letter-spacing:-0.388px">1<tspan dx="-3.9">.</tspan>95</text>
<text x="1104.23" y="287.92" style="font-size:42.5px;letter-spacing:-0.388px">1<tspan dx="-3.9">.</tspan>94</text>
<text x="1105.29" y="348.30" style="font-size:42.5px;letter-spacing:-0.388px">1<tspan dx="-3.9">.</tspan>93</text>
<text x="1105.93" y="408.68" style="font-size:42.5px;letter-spacing:-0.388px">1<tspan dx="-3.9">.</tspan>92</text>
<text x="82.69" y="447.00" dx="0 -3 0 0 0 0 0 0" style="font-size:42.5px;letter-spacing:-0.841px;">1.I.2022</text>
<text x="225.39" y="479.80" style="font-size:42.5px;letter-spacing:-0.430px;">26.III.2022</text>
<text x="411.19" y="447.00" dx="0 -3 0 0 0 0 0 0 0 0" style="font-size:42.5px;letter-spacing:-1.404px;">19.VI.2022</text>
<text x="592.09" y="479.80" dx="0 -3 0 0 0 0 0 0 0 0" style="font-size:42.5px;letter-spacing:-1.404px;">12.IX.2022</text>
<text x="764.60" y="447.00" style="font-size:42.5px;letter-spacing:-0.949px;">6.XII.2022</text>
<text x="932.09" y="479.80" dx="0 -3 0 0 0 0 0 0 0 0" style="font-size:42.5px;letter-spacing:-0.643px;">1.III.2023</text>
<text x="480.39" y="527.20" style="font-size:42.5px;letter-spacing:0.110px;">Дата отлета</text>
<text x="1124.59" y="444.40" dx="0 -3 0 0 0 0 0 0" style="font-size:42.5px;letter-spacing:-0.727px;">1.I.2022</text>
<text x="1288.39" y="478.50" style="font-size:42.5px;letter-spacing:-1.355px;">27.I.2022</text>
<text x="1460.59" y="444.40" style="font-size:42.5px;letter-spacing:-0.774px;">23.II.2022</text>
<text x="1635.29" y="478.50" dx="0 -2.1 -3 0 0 0 0 0 0 0 0" style="font-size:42.5px;letter-spacing:-0.450px;">21.III.2022</text>
<text x="1815.49" y="444.40" dx="0 -3 0 0 0 0 0 0 0 0" style="font-size:42.5px;letter-spacing:-1.535px;">17.IV.2022</text>
<text x="1438.09" y="525.40" style="font-size:42.5px;letter-spacing:0.150px;">Дата отлета</text>
<text x="887.37" y="63.20" style="font-size:33.2px;letter-spacing:0.141px;font-style:italic">Nrev</text>
<line x1="960.10" y1="50.50" x2="980.70" y2="50.50" stroke="#231f20" stroke-width="1.7" />
<line x1="960.10" y1="55.70" x2="980.70" y2="55.70" stroke="#231f20" stroke-width="1.7" />
<text x="989.71" y="63.20" style="font-size:33.2px">2</text>
<text x="887.37" y="106.00" style="font-size:33.2px;letter-spacing:0.141px;font-style:italic">Nrev</text>
<line x1="960.10" y1="93.30" x2="980.70" y2="93.30" stroke="#231f20" stroke-width="1.7" />
<line x1="960.10" y1="98.50" x2="980.70" y2="98.50" stroke="#231f20" stroke-width="1.7" />
<text x="990.88" y="106.00" style="font-size:33.2px">1</text>
<text x="1721.37" y="103.80" style="font-size:33.2px;letter-spacing:0.141px;font-style:italic">Nrev</text>
<line x1="1794.10" y1="91.10" x2="1814.70" y2="91.10" stroke="#231f20" stroke-width="1.7" />
<line x1="1794.10" y1="96.30" x2="1814.70" y2="96.30" stroke="#231f20" stroke-width="1.7" />
<text x="1823.71" y="103.80" style="font-size:33.2px">2</text>
<text x="1721.37" y="146.00" style="font-size:33.2px;letter-spacing:0.141px;font-style:italic">Nrev</text>
<line x1="1794.10" y1="133.30" x2="1814.70" y2="133.30" stroke="#231f20" stroke-width="1.7" />
<line x1="1794.10" y1="138.50" x2="1814.70" y2="138.50" stroke="#231f20" stroke-width="1.7" />
<text x="1824.88" y="146.00" style="font-size:33.2px">1</text>
<text transform="translate(51.00,388.72) rotate(-90) scale(1.085,1)" x="0" y="0" dx="0 0 0 0 0 0 0 0 -3.0 -0.8 0 0 -1.5" style="font-size:42.0px">Функционал, м</text>
<text transform="translate(32.40,101.01) rotate(-90) scale(1.19,1)" x="0" y="0" style="font-size:24.5px">2</text>
<line x1="56.9" y1="85.6" x2="20.9" y2="69.0" stroke="#231f20" stroke-width="2.3"/>
<text transform="translate(51.00,68.45) rotate(-90) scale(0.98,1)" x="0" y="0" style="font-size:42.0px">с</text>
<text transform="translate(32.40,48.91) rotate(-90) scale(1.19,1)" x="0" y="0" style="font-size:24.5px">3</text>
</g>
</svg>
</body></html>
